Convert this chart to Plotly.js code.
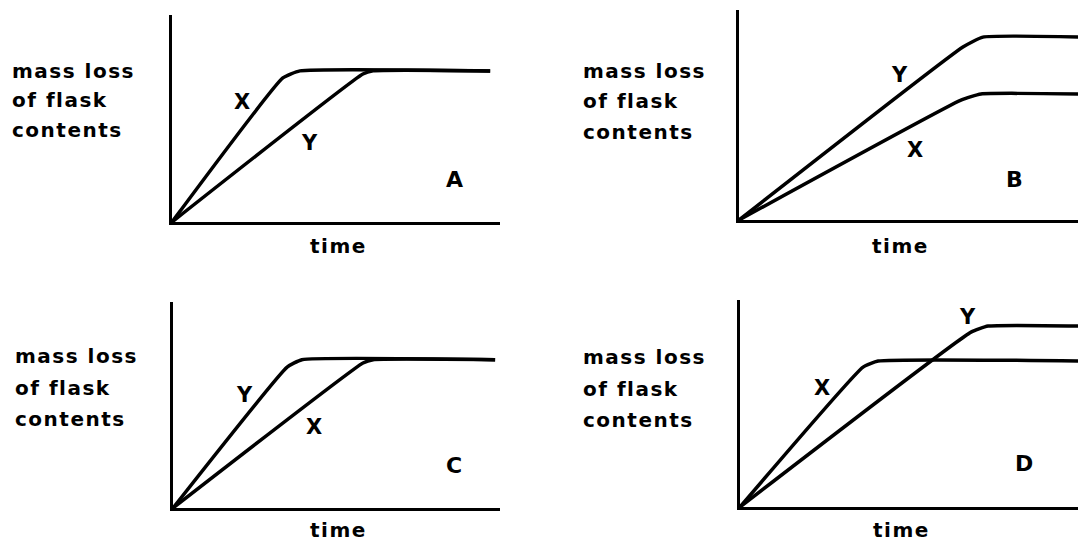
<!DOCTYPE html>
<html>
<head>
<meta charset="utf-8">
<script src="https://cdn.plot.ly/plotly-3.0.1.min.js"></script>
<style>
body { margin: 0; background: #fff; }
#graph { width: 1078px; height: 542px; }
.annotation-text { letter-spacing: 1.5px; }
</style>
</head>
<body>
<div id="graph"></div>
<script>
// données (temps, perte de masse) pour chaque panneau
var panels = ['A', 'B', 'C', 'D'];
var ylabel = ['mass loss', 'of flask', 'contents'];
var xlabel = 'time';

// panneau A
var timeXA = [0, 3.38, 3.9, 9.7];
var massXA = [0, 6.96, 7.3, 7.3];
var timeYA = [0, 5.82, 6.13, 9.7];
var massYA = [0, 7.15, 7.3, 7.3];
// panneau B
var timeXB = [0, 6.77, 7.38, 10.6];
var massXB = [0, 5.71, 6.0, 6.0];
var timeYB = [0, 6.83, 7.44, 10.6];
var massYB = [0, 8.24, 8.71, 8.71];
// panneau C
var timeXC = [0, 5.81, 6.12, 9.85];
var massXC = [0, 7.04, 7.2, 7.2];
var timeYC = [0, 3.49, 3.94, 9.85];
var massYC = [0, 6.84, 7.2, 7.2];
// panneau D
var timeXD = [0, 3.75, 4.21, 10.6];
var massXD = [0, 6.76, 7.05, 7.05];
var timeYD = [0, 7.04, 7.56, 10.6];
var massYD = [0, 8.45, 8.74, 8.74];

var W = 1078, H = 542;
function px(v) { return v / W; }
function py(v) { return 1 - v / H; }

var police = {family: 'DejaVu Sans, sans-serif', color: 'black', weight: 'bold'};

function courbe(t, m, n) {
	return {
		x: t, y: m,
		xaxis: 'x' + (n == 1 ? '' : n),
		yaxis: 'y' + (n == 1 ? '' : n),
		mode: 'lines',
		line: {color: 'black', width: 3.5, shape: 'spline', smoothing: 0.4},
		hoverinfo: 'skip'
	};
}

var data = [
	courbe(timeXA, massXA, 1), courbe(timeYA, massYA, 1),
	courbe(timeXB, massXB, 2), courbe(timeYB, massYB, 2),
	courbe(timeXC, massXC, 3), courbe(timeYC, massYC, 3),
	courbe(timeXD, massXD, 4), courbe(timeYD, massYD, 4)
];

// cadre de chaque panneau en pixels : gauche, droite, haut, bas, xmax
var cadres = [
	[172, 500, 15, 222, 10],
	[739, 1078, 10, 220, 10.34],
	[173, 500, 302, 508, 10],
	[740, 1078, 300, 507, 10.3]
];

var layout = {
	width: W, height: H,
	margin: {l: 0, r: 0, t: 0, b: 0},
	paper_bgcolor: 'white', plot_bgcolor: 'white',
	showlegend: false,
	font: police,
	annotations: []
};

cadres.forEach(function(c, i) {
	var n = i == 0 ? '' : (i + 1);
	layout['xaxis' + n] = {
		domain: [px(c[0]), px(c[1])], range: [0, c[4]],
		anchor: 'y' + n,
		showline: true, linecolor: 'black', linewidth: 3,
		showgrid: false, zeroline: false, showticklabels: false, ticks: '', fixedrange: true
	};
	layout['yaxis' + n] = {
		domain: [py(c[3]), py(c[2])], range: [0, 10],
		anchor: 'x' + n,
		showline: true, linecolor: 'black', linewidth: 3,
		showgrid: false, zeroline: false, showticklabels: false, ticks: '', fixedrange: true
	};
});

function texte(t, x, y, taille, xa) {
	layout.annotations.push({
		text: t, x: px(x), y: py(y), xref: 'paper', yref: 'paper',
		showarrow: false, xanchor: xa || 'center', yanchor: 'middle', align: 'left',
		font: {family: police.family, color: 'black', size: taille, weight: 'bold'}
	});
}

// titres des axes (une ligne à la fois)
function titreY(x, ys) {
	ylabel.forEach(function(l, k) { texte(l, x, ys[k], 20, 'left'); });
}
titreY(10, [71, 100, 130]);
titreY(581, [71, 101, 132]);
titreY(13, [356, 388, 419]);
titreY(581, [357, 389, 420]);
texte(xlabel, 338, 246, 20);
texte(xlabel, 900, 246, 20);
texte(xlabel, 338, 530, 20);
texte(xlabel, 901, 530, 20);

// étiquettes des courbes et lettres des panneaux
texte('X', 243, 102, 21); texte('Y', 310, 143, 21); texte(panels[0], 455, 180, 22);
texte('Y', 900, 75, 21); texte('X', 916, 150, 21); texte(panels[1], 1015, 180, 22);
texte('Y', 245, 395, 21); texte('X', 315, 427, 21); texte(panels[2], 455, 465, 22);
texte('X', 823, 388, 21); texte('Y', 968, 317, 21); texte(panels[3], 1025, 463, 22);

Plotly.newPlot('graph', data, layout, {staticPlot: true, displayModeBar: false});
</script>
</body>
</html>
